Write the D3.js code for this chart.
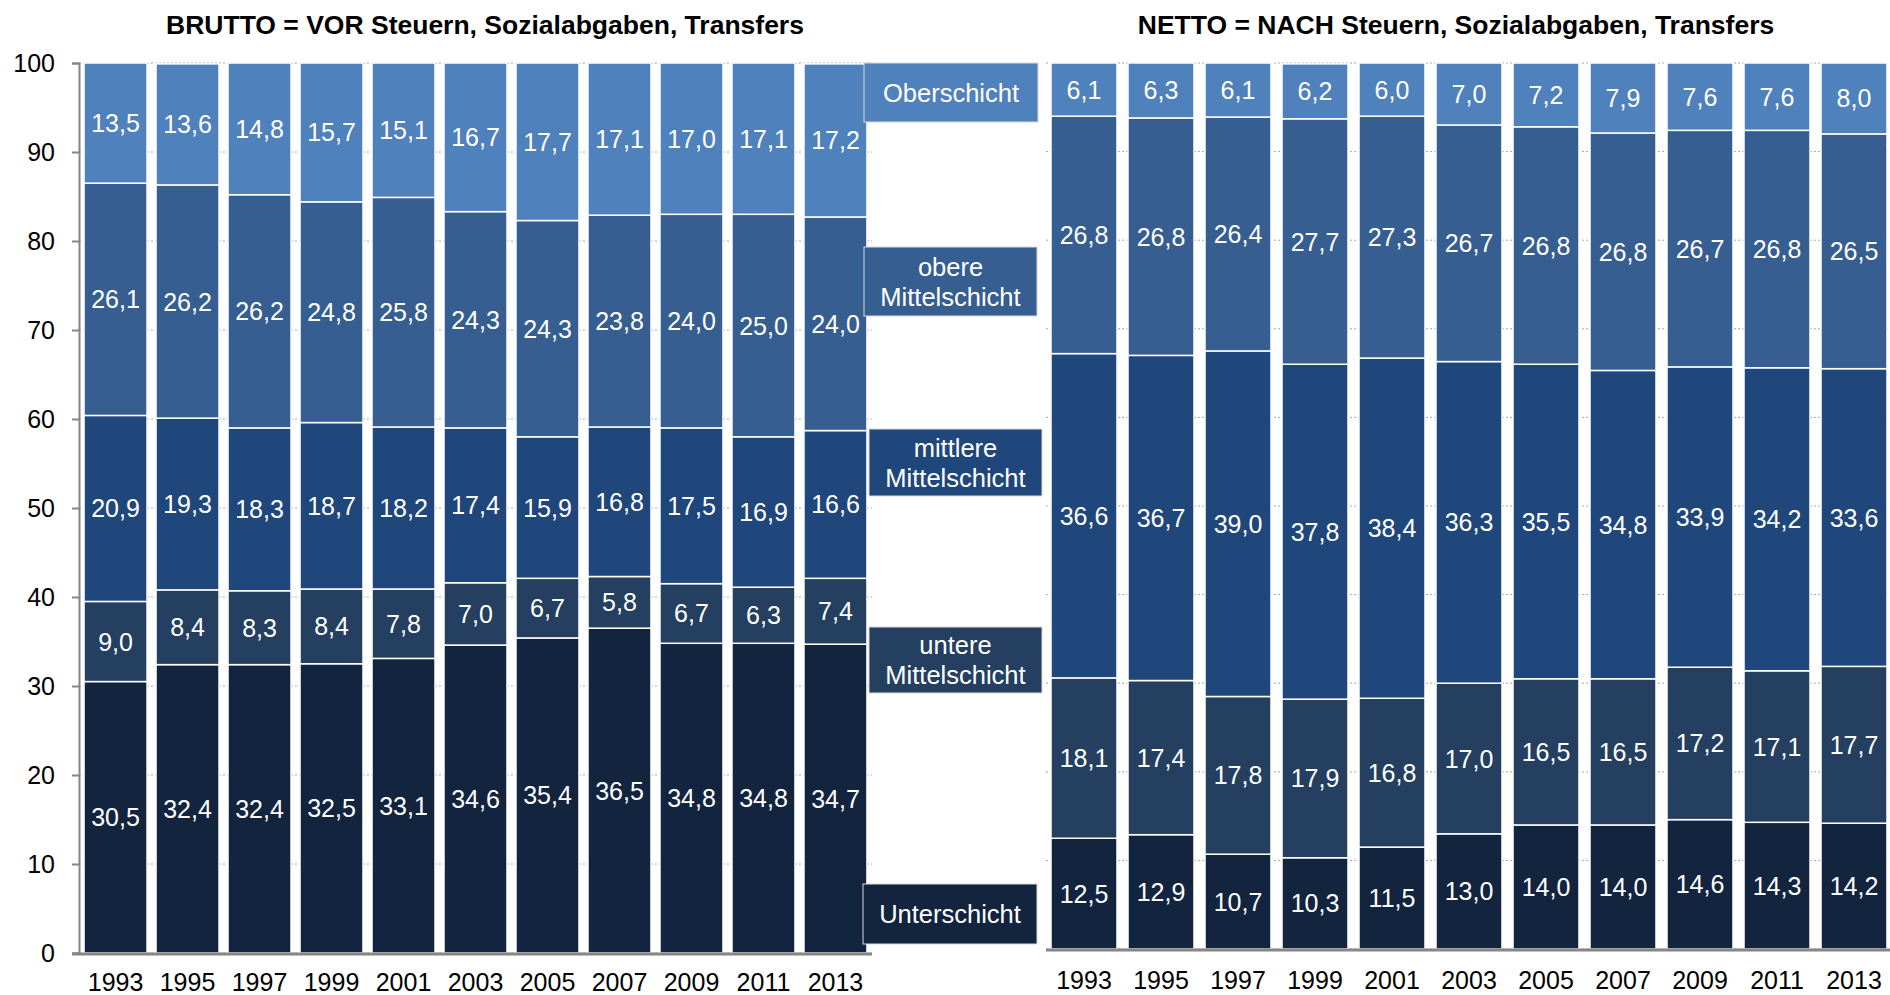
<!DOCTYPE html>
<html>
<head>
<meta charset="utf-8">
<script src="https://cdn.jsdelivr.net/npm/d3@7"></script>
<style>
  body { margin: 0; background: #ffffff; }
  svg { display: block; font-family: "Liberation Sans", Arial, sans-serif; }
</style>
</head>
<body>
<div id="chart"></div>
<script>
// data, bottom to top of each bar
var years = ["1993", "1995", "1997", "1999", "2001", "2003", "2005", "2007", "2009", "2011", "2013"];
var layers = ["unter", "untereMitte", "mittlereMitte", "obereMitte", "ober"];
var layerNames = [["Unterschicht"], ["untere", "Mittelschicht"], ["mittlere", "Mittelschicht"], ["obere", "Mittelschicht"], ["Oberschicht"]];

var bruttoUnter       = [30.5, 32.4, 32.4, 32.5, 33.1, 34.6, 35.4, 36.5, 34.8, 34.8, 34.7];
var bruttoUntereMitte = [9.0, 8.4, 8.3, 8.4, 7.8, 7.0, 6.7, 5.8, 6.7, 6.3, 7.4];
var bruttoMittlere    = [20.9, 19.3, 18.3, 18.7, 18.2, 17.4, 15.9, 16.8, 17.5, 16.9, 16.6];
var bruttoObereMitte  = [26.1, 26.2, 26.2, 24.8, 25.8, 24.3, 24.3, 23.8, 24.0, 25.0, 24.0];
var bruttoOber        = [13.5, 13.6, 14.8, 15.7, 15.1, 16.7, 17.7, 17.1, 17.0, 17.1, 17.2];

var nettoUnter       = [12.5, 12.9, 10.7, 10.3, 11.5, 13.0, 14.0, 14.0, 14.6, 14.3, 14.2];
var nettoUntereMitte = [18.1, 17.4, 17.8, 17.9, 16.8, 17.0, 16.5, 16.5, 17.2, 17.1, 17.7];
var nettoMittlere    = [36.6, 36.7, 39.0, 37.8, 38.4, 36.3, 35.5, 34.8, 33.9, 34.2, 33.6];
var nettoObereMitte  = [26.8, 26.8, 26.4, 27.7, 27.3, 26.7, 26.8, 26.8, 26.7, 26.8, 26.5];
var nettoOber        = [6.1, 6.3, 6.1, 6.2, 6.0, 7.0, 7.2, 7.9, 7.6, 7.6, 8.0];

var yTicks = [0, 10, 20, 30, 40, 50, 60, 70, 80, 90, 100];

var titleBrutto = "BRUTTO = VOR Steuern, Sozialabgaben, Transfers";
var titleNetto = "NETTO = NACH Steuern, Sozialabgaben, Transfers";

function toRows(series){
    return years.map(function(y, i){
        var row = {year: y};
        layers.forEach(function(k, j){ row[k] = series[j][i]; });
        return row;
    });
}
var bruttoRows = toRows([bruttoUnter, bruttoUntereMitte, bruttoMittlere, bruttoObereMitte, bruttoOber]);
var nettoRows = toRows([nettoUnter, nettoUntereMitte, nettoMittlere, nettoObereMitte, nettoOber]);

var colors = d3.scaleOrdinal()
    .domain(layers)
    .range(["#13243f", "#243f60", "#20477b", "#365e90", "#4f81bd"]);

var fmt = function(v){ return d3.format(".1f")(v).replace(".", ","); };

var width = 1890, height = 995;
var svg = d3.select("#chart").append("svg")
    .attr("width", width)
    .attr("height", height);

function drawPanel(rows, opts){
    var x = d3.scaleBand()
        .domain(years)
        .range(opts.xRange)
        .paddingInner(opts.padIn)
        .paddingOuter(opts.padOut);
    var y = d3.scaleLinear().domain([0, 100]).range([opts.y0, opts.y100]);

    var g = svg.append("g");

    // dotted gridlines, only visible in the gaps between bars
    g.selectAll(".grid")
        .data(yTicks).enter().append("line")
            .attr("x1", opts.xRange[0])
            .attr("x2", Math.min(opts.xRange[1], width))
            .attr("y1", function(d){ return y(d); })
            .attr("y2", function(d){ return y(d); })
            .attr("stroke", "#a6a6a6")
            .attr("stroke-width", 1)
            .attr("stroke-dasharray", "2,2");

    var stacked = d3.stack().keys(layers)(rows);

    var layer = g.selectAll(".layer")
        .data(stacked).enter().append("g")
            .attr("fill", function(d){ return colors(d.key); });

    layer.selectAll("rect")
        .data(function(d){ return d; }).enter().append("rect")
            .attr("x", function(d){ return x(d.data.year); })
            .attr("width", x.bandwidth())
            .attr("y", function(d){ return y(Math.min(d[1], 100)); })
            .attr("height", function(d){ return y(d[0]) - y(Math.min(d[1], 100)); })
            .attr("stroke", "#ffffff")
            .attr("stroke-width", 1.5);

    layer.selectAll("text")
        .data(function(d){ return d; }).enter().append("text")
            .attr("x", function(d){ return x(d.data.year) + x.bandwidth() / 2; })
            .attr("y", function(d){ return y((d[0] + Math.min(d[1], 100)) / 2); })
            .attr("dy", "0.36em")
            .attr("text-anchor", "middle")
            .attr("fill", "#ffffff")
            .attr("font-size", 25)
            .text(function(d){ return fmt(d[1] - d[0]); });

    // x axis
    var xAxis = g.append("g")
        .attr("transform", "translate(0," + opts.y0 + ")")
        .call(d3.axisBottom(x).tickSize(0).tickPadding(opts.yearPad));
    xAxis.select(".domain").remove();
    xAxis.selectAll("text")
        .attr("font-size", 25)
        .attr("fill", "#000000")
        .attr("font-family", "Liberation Sans, Arial, sans-serif");

    g.append("line")
        .attr("x1", opts.baseX0)
        .attr("x2", Math.min(opts.xRange[1], width))
        .attr("y1", opts.y0 + 1)
        .attr("y2", opts.y0 + 1)
        .attr("stroke", "#868686")
        .attr("stroke-width", 3);

    if(opts.showY){
        var yAxis = g.append("g")
            .attr("transform", "translate(" + opts.xRange[0] + ",0)")
            .call(d3.axisLeft(y).tickValues(yTicks).tickSize(7).tickPadding(17));
        yAxis.select(".domain").attr("stroke", "#868686").attr("stroke-width", 2);
        yAxis.selectAll(".tick line").attr("stroke", "#868686").attr("stroke-width", 2);
        yAxis.selectAll("text")
            .attr("font-size", 25)
            .attr("fill", "#000000")
            .attr("font-family", "Liberation Sans, Arial, sans-serif");
    }

    svg.append("text")
        .attr("x", opts.titleX)
        .attr("y", 34)
        .attr("text-anchor", "middle")
        .attr("font-weight", "bold")
        .attr("font-size", 26.5)
        .attr("fill", "#000000")
        .text(opts.title);
}

drawPanel(bruttoRows, {
    xRange: [79, 872], padIn: 0.125, padOut: 0.07,
    y0: 953, y100: 63, yearPad: 20, baseX0: 72, showY: true,
    title: titleBrutto, titleX: 485
});
drawPanel(nettoRows, {
    xRange: [1046, 1892], padIn: 0.143, padOut: 0.065,
    y0: 949, y100: 63, yearPad: 22, baseX0: 1046, showY: false,
    title: titleNetto, titleX: 1456
});

// legend boxes between the two panels
var legendBoxes = [
    {key: "ober", x: 864, y: 63, w: 174, h: 59},
    {key: "obereMitte", x: 864, y: 247, w: 173, h: 69},
    {key: "mittlereMitte", x: 869, y: 429, w: 173, h: 67},
    {key: "untereMitte", x: 869, y: 627, w: 173, h: 66},
    {key: "unter", x: 863, y: 884, w: 174, h: 60}
];
var lg = svg.append("g").selectAll("g")
    .data(legendBoxes).enter().append("g")
        .attr("transform", function(d){ return "translate(" + d.x + "," + d.y + ")"; });
lg.append("rect")
    .attr("width", function(d){ return d.w; })
    .attr("height", function(d){ return d.h; })
    .attr("fill", function(d){ return colors(d.key); })
    .attr("stroke", "#d9d9d9")
    .attr("stroke-width", 1);
lg.each(function(d){
    var lines = layerNames[layers.indexOf(d.key)];
    var t = d3.select(this).append("text")
        .attr("text-anchor", "middle")
        .attr("fill", "#ffffff")
        .attr("font-size", 25.5);
    lines.forEach(function(line, i){
        t.append("tspan")
            .attr("x", d.w / 2)
            .attr("y", d.h / 2 + (i - (lines.length - 1) / 2) * 30)
            .attr("dy", "0.36em")
            .text(line);
    });
});
</script>
</body>
</html>
